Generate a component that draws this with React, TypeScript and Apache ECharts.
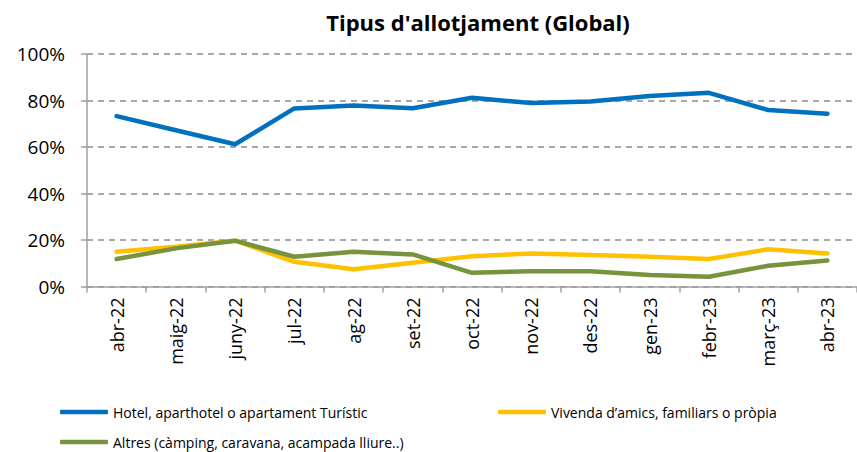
import React, { useEffect, useRef } from "react";
import * as echarts from "echarts";

const categories = ["abr-22", "maig-22", "juny-22", "jul-22", "ag-22", "set-22", "oct-22", "nov-22", "des-22", "gen-23", "febr-23", "març-23", "abr-23"];
const hotel = [73.3, 67.2, 61.2, 76.6, 77.9, 76.7, 81.2, 78.9, 79.6, 81.9, 83.3, 75.9, 74.3];
const vivenda = [14.9, 17.1, 19.7, 10.6, 7.4, 10.2, 13.0, 14.2, 13.5, 12.8, 11.8, 16.0, 14.2];
const altres = [11.8, 16.4, 19.7, 12.8, 14.9, 13.8, 5.9, 6.6, 6.6, 4.9, 4.2, 8.9, 11.2];
const yTicks = [0, 20, 40, 60, 80, 100];

const seriesNames = [
  "Hotel, aparthotel o apartament Turístic",
  "Vivenda d’amics, familiars o pròpia",
  "Altres (càmping, caravana, acampada lliure..)",
];
const colors = ["#0070C0", "#FFC000", "#77933C"];

export default function App() {
  const ref = useRef<HTMLDivElement>(null);
  useEffect(() => {
    if (!ref.current) return;
    const chart = echarts.init(ref.current, null, { renderer: "svg" });
    const font = "'Open Sans', 'Noto Sans', sans-serif";
    const legendBase = {
      icon: "roundRect",
      itemWidth: 48,
      itemHeight: 4.5,
      itemGap: 4,
      padding: 0,
      textStyle: { fontFamily: font, fontSize: 14, color: "#000", lineHeight: 16 },
    };
    chart.setOption({
      animation: false,
      backgroundColor: "#fff",
      graphic: [
        {
          type: "text",
          x: 478,
          y: 22,
          style: {
            text: "Tipus d'allotjament (Global)",
            fontFamily: font,
            fontWeight: "bold",
            fontSize: 22,
            fill: "#000",
            textAlign: "center",
            textVerticalAlign: "middle",
          },
        },
      ],
      legend: [
        { ...legendBase, data: [seriesNames[0]], left: 60, top: 404 },
        { ...legendBase, data: [seriesNames[1]], left: 498, top: 404 },
        { ...legendBase, data: [seriesNames[2]], left: 60, top: 434 },
      ],
      grid: { left: 87, top: 54, width: 782, height: 232.5, containLabel: false },
      xAxis: {
        type: "category",
        data: categories,
        boundaryGap: true,
        axisLine: { lineStyle: { color: "#a0a0a0", width: 1.5 } },
        axisTick: { show: true, length: 6, lineStyle: { color: "#a0a0a0", width: 1.5 } },
        axisLabel: {
          rotate: 90,
          margin: 11,
          fontFamily: font,
          fontSize: 18,
          color: "#000",
          interval: 0,
        },
        splitLine: { show: false },
      },
      yAxis: {
        type: "value",
        min: yTicks[0],
        max: yTicks[yTicks.length - 1],
        interval: 20,
        axisLine: { show: true, lineStyle: { color: "#a0a0a0", width: 1.5 } },
        axisTick: { show: true, length: 6, lineStyle: { color: "#a0a0a0", width: 1.5 } },
        axisLabel: {
          margin: 22,
          fontFamily: font,
          fontSize: 19,
          color: "#000",
          formatter: "{value}%",
        },
        splitLine: { show: true, lineStyle: { color: "#8c8c8c", width: 1.5, type: [6, 5] } },
      },
      series: [hotel, vivenda, altres].map((d, i) => ({
        name: seriesNames[i],
        type: "line",
        data: d,
        symbol: "none",
        showSymbol: false,
        smooth: false,
        lineStyle: { color: colors[i], width: 4.5, cap: "round", join: "round" },
        itemStyle: { color: colors[i] },
      })),
    });
    return () => chart.dispose();
  }, []);
  return (
    <div
      ref={ref}
      style={{ position: "fixed", left: 0, top: 0, width: 857, height: 452, background: "#fff" }}
    />
  );
}
